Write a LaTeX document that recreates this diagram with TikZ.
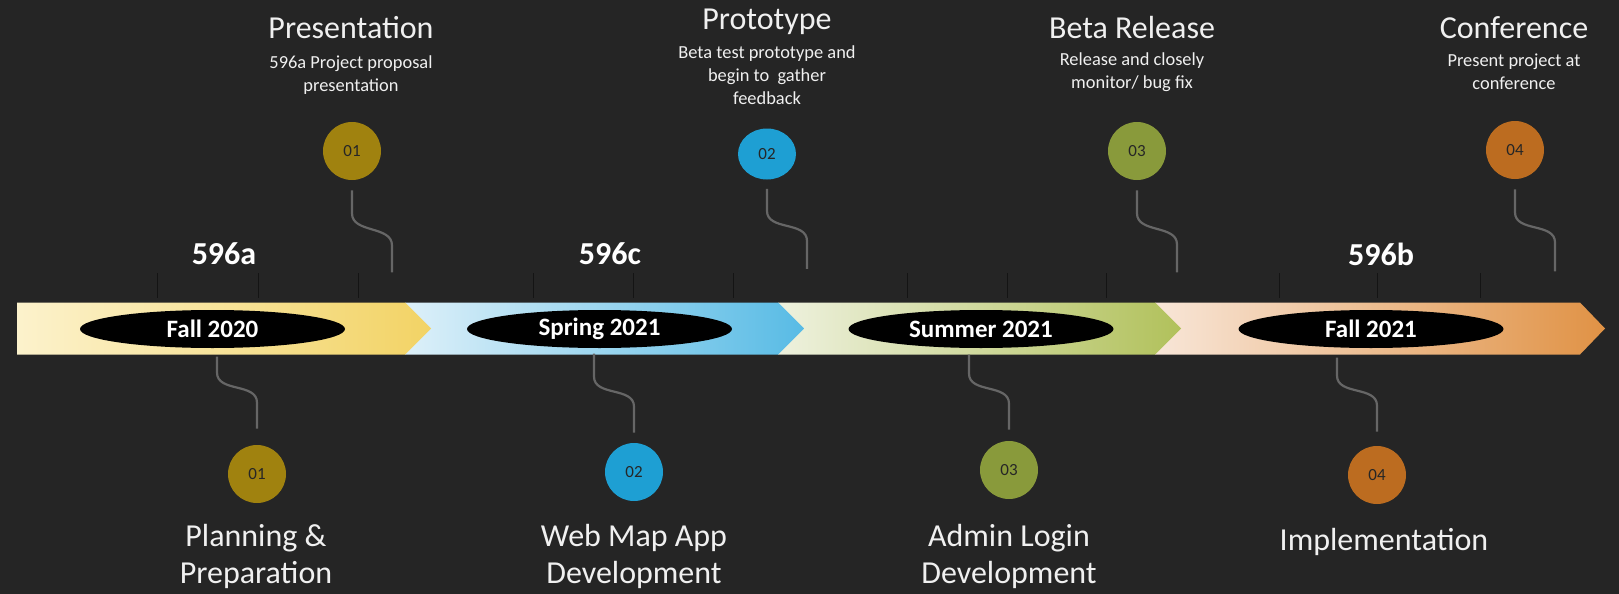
\documentclass[tikz,border=0pt]{standalone}
\usepackage{fontspec}
\setmainfont{Carlito}
\usetikzlibrary{shapes.geometric}
\definecolor{board}{HTML}{252525}
\definecolor{gold}{HTML}{A0820F}
\definecolor{sky}{HTML}{1E9FD3}
\definecolor{olive}{HTML}{899A3B}
\definecolor{rust}{HTML}{BC6C20}
\definecolor{yelA}{HTML}{FCF2CC}
\definecolor{yelB}{HTML}{F2D365}
\definecolor{bluA}{HTML}{DDF0F9}
\definecolor{bluB}{HTML}{58BBE5}
\definecolor{grnA}{HTML}{EEF1DE}
\definecolor{grnB}{HTML}{B1C15B}
\definecolor{orgA}{HTML}{F8E6D8}
\definecolor{orgB}{HTML}{E09245}
\begin{document}
\begin{tikzpicture}[x=0.5pt,y=-0.5pt]
\tikzstyle{link} = [draw, gray!80!black, line width=1.1pt]
\tikzstyle{dot} = [circle, minimum size=29pt, inner sep=0pt, text=black!85, font=\fontsize{8.5}{10}\selectfont]
\tikzstyle{term} = [ellipse, fill=black, minimum width=132.5pt, minimum height=19pt, inner sep=0pt, text=white, font=\fontsize{12.5}{14}\selectfont\bfseries]
\tikzstyle{title} = [text=white!94!black, align=center, font=\fontsize{16}{18.5}\selectfont]
\tikzstyle{note} = [text=white!94!black, align=center, font=\fontsize{9.2}{11.5}\selectfont]
\tikzstyle{course} = [text=white, font=\fontsize{16}{18}\selectfont\bfseries]
\fill[board] (0,0) rectangle (1619,594);
\useasboundingbox (0,0) rectangle (1619,594);
% grid ticks above the band
\draw[black!92, line width=0.4pt] (157,273) -- (157,298) (258,273) -- (258,298) (358,273) -- (358,298)
  (533,273) -- (533,298) (633,273) -- (633,298) (733,273) -- (733,298)
  (907,273) -- (907,298) (1007,273) -- (1007,298) (1106,273) -- (1106,298)
  (1279,273) -- (1279,298) (1377,273) -- (1377,298) (1480,273) -- (1480,298);
% the band, last season first
\shade[left color=orgA, right color=orgB] (1155,302.5) -- (1580,302.5) -- (1605,328.5) -- (1580,354.5) -- (1155,354.5) -- cycle;
\shade[left color=grnA, right color=grnB] (778,302.5) -- (1155,302.5) -- (1181,328.5) -- (1155,354.5) -- (778,354.5) -- cycle;
\shade[left color=bluA, right color=bluB] (405,302.5) -- (778,302.5) -- (804,328.5) -- (778,354.5) -- (405,354.5) -- cycle;
\shade[left color=yelA, right color=yelB] (17,302.5) -- (405,302.5) -- (431,328.5) -- (405,354.5) -- (17,354.5) -- cycle;
\node[term] (S_1) at (212.5,329) {Fall 2020};
\node[term] (S_2) at (599.5,329) {Spring 2021};
\node[term] (S_3) at (981,329) {Summer 2021};
\node[term] (S_4) at (1371,329) {Fall 2021};
\node[course] (C_1) at (224,254) {596a};
\node[course] (C_2) at (610,254) {596c};
\node[course] (C_3) at (1381,254) {596b};
% milestones above
\node[dot, fill=gold] (T_1) at (352,151) {01};
\node[dot, ellipse, minimum width=29pt, minimum height=25.5pt, fill=sky] (T_2) at (767,154) {02};
\node[dot, fill=olive] (T_3) at (1137,151) {03};
\node[dot, fill=rust] (T_4) at (1515,150) {04};
\node[title] (TT_1) at (351,28) {Presentation};
\node[note] (TN_1) at (351,75) {596a Project proposal\\presentation};
\node[title] (TT_2) at (767,22) {Prototype};
\node[note] (TN_2) at (767,75) {Beta test prototype and\\begin to\ \ gather\\feedback};
\node[title] (TT_3) at (1132,28) {Beta Release};
\node[note] (TN_3) at (1132,72) {Release and closely\\monitor/ bug fix};
\node[title] (TT_4) at (1514,28) {Conference};
\node[note] (TN_4) at (1514,72) {Present project at\\conference};
\path[link] ([yshift=-5pt]T_1.south) -- ++(0,23) .. controls +(0,20) and +(0,-20) .. ++(40,32) -- ++(0,27);
\path[link] ([yshift=-4.5pt]T_2.south) -- ++(0,22) .. controls +(0,20) and +(0,-20) .. ++(40,30) -- ++(0,28);
\path[link] ([yshift=-5pt]T_3.south) -- ++(0,23) .. controls +(0,20) and +(0,-20) .. ++(40,31) -- ++(0,28);
\path[link] ([yshift=-5pt]T_4.south) -- ++(0,23) .. controls +(0,20) and +(0,-20) .. ++(40,30) -- ++(0,29);
% milestones below
\node[dot, fill=gold] (B_1) at (257,474) {01};
\node[dot, fill=sky] (B_2) at (634,472) {02};
\node[dot, fill=olive] (B_3) at (1009,470) {03};
\node[dot, fill=rust] (B_4) at (1377,475) {04};
\node[title] (BT_1) at (256,556) {Planning \&\\Preparation};
\node[title] (BT_2) at (634,556) {Web Map App\\Development};
\node[title] (BT_3) at (1009,556) {Admin Login\\Development};
\node[title] (BT_4) at (1384,542) {Implementation};
\path[link] ([yshift=8pt]B_1.north) -- ++(0,-26) .. controls +(0,-20) and +(0,20) .. ++(-40,-30) -- ++(0,-16);
\path[link] ([yshift=5pt]B_2.north) -- ++(0,-26) .. controls +(0,-20) and +(0,20) .. ++(-40,-30) -- ++(0,-23);
\path[link] ([yshift=5.5pt]B_3.north) -- ++(0,-26) .. controls +(0,-20) and +(0,20) .. ++(-40,-30) -- ++(0,-19);
\path[link] ([yshift=7pt]B_4.north) -- ++(0,-26) .. controls +(0,-20) and +(0,20) .. ++(-40,-30) -- ++(0,-18);
\end{tikzpicture}
\end{document}
